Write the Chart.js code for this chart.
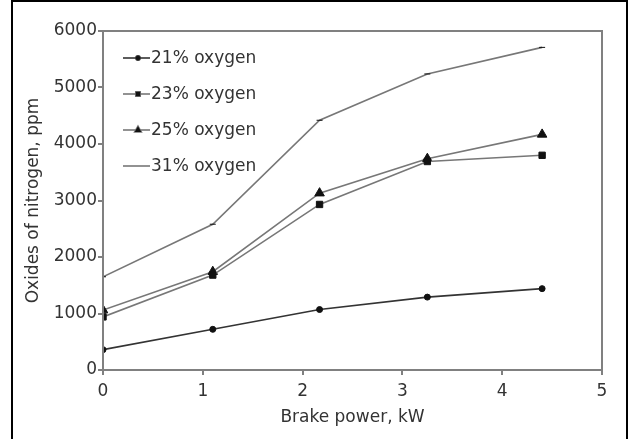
<!DOCTYPE html>
<html>
<head>
<meta charset="utf-8">
<script src="https://cdn.jsdelivr.net/npm/chart.js@4.4.0/dist/chart.umd.min.js"></script>
<style>
  body { margin: 0; background: #fff; }
  #wrap { position: relative; width: 628px; height: 439px; overflow: hidden; }
  #frame { position: absolute; left: 11px; top: 0; width: 617px; height: 470px;
           border: 2px solid #000; box-sizing: border-box; pointer-events: none; }
</style>
</head>
<body>
<div id="wrap">
  <canvas id="chart" width="628" height="439"></canvas>
  <div id="frame"></div>
</div>
<script>
// brake power (kW) at each test point
const power = [0, 1.1, 2.17, 3.25, 4.4];

// oxides of nitrogen (ppm)
const nox21 = [360, 720, 1070, 1290, 1440];
const nox23 = [940, 1680, 2930, 3690, 3800];
const nox25 = [1060, 1740, 3130, 3740, 4170];
const nox31 = [1650, 2580, 4420, 5240, 5710];

const labels = ['21% oxygen', '23% oxygen', '25% oxygen', '31% oxygen'];

const toPoints = (ys) => ys.map((y, i) => ({ x: power[i], y: y }));

const series = [
  { label: labels[0], data: toPoints(nox21), pointStyle: 'circle', pointRadius: 3, borderColor: '#333' },
  { label: labels[1], data: toPoints(nox23), pointStyle: 'rect', pointRadius: 4.5, borderColor: '#777' },
  { label: labels[2], data: toPoints(nox25), pointStyle: 'triangle', pointRadius: 5.5, borderColor: '#777' },
  { label: labels[3], data: toPoints(nox31), pointStyle: 'line', pointRadius: 3, borderColor: '#777' },
];

// box around the plot plus the hand-placed legend inside it
const plotExtras = {
  id: 'plotExtras',
  afterDraw(chart) {
    const { ctx, chartArea } = chart;
    ctx.save();
    ctx.strokeStyle = '#808080';
    ctx.lineWidth = 2;
    ctx.strokeRect(chartArea.left, chartArea.top, chartArea.right - chartArea.left, chartArea.bottom - chartArea.top);

    ctx.font = '17px "DejaVu Sans"';
    ctx.textBaseline = 'middle';
    chart.data.datasets.forEach((ds, i) => {
      const y = chartArea.top + 27 + i * 36;
      const x0 = chartArea.left + 20;
      ctx.strokeStyle = ds.borderColor;
      ctx.lineWidth = 1.6;
      ctx.beginPath();
      ctx.moveTo(x0, y);
      ctx.lineTo(x0 + 27, y);
      ctx.stroke();
      if (ds.pointStyle !== 'line') {
        Chart.helpers.drawPoint(ctx, { pointStyle: ds.pointStyle, radius: ds.pointRadius * 0.7, borderWidth: 1 }, x0 + 15, y);
        ctx.fillStyle = '#111';
        ctx.fill();
      }
      ctx.fillStyle = '#333';
      ctx.fillText(ds.label, x0 + 28, y + 1);
    });
    ctx.restore();
  }
};

new Chart(document.getElementById('chart'), {
  type: 'scatter',
  data: {
    datasets: series.map((s) => ({
      ...s,
      showLine: true,
      borderWidth: 1.6,
      pointBackgroundColor: '#111',
      pointBorderColor: '#111',
      pointBorderWidth: 1,
      tension: 0,
    })),
  },
  plugins: [plotExtras],
  options: {
    responsive: false,
    animation: false,
    layout: { padding: { left: 14, right: 26, top: 31, bottom: 10 } },
    plugins: {
      legend: { display: false },
      tooltip: { enabled: false },
    },
    scales: {
      x: {
        type: 'linear',
        min: 0,
        max: 5,
        ticks: { stepSize: 1, color: '#333', font: { family: 'DejaVu Sans', size: 17 }, padding: 6 },
        grid: { drawOnChartArea: false, tickLength: 5, color: '#808080', lineWidth: 2 },
        border: { color: '#808080', width: 2 },
        title: { display: true, text: 'Brake power, kW', color: '#333', font: { family: 'DejaVu Sans', size: 17 }, padding: { top: 0, bottom: 1 } },
        afterFit(scale) { scale.height = 59; },
      },
      y: {
        min: 0,
        max: 6000,
        ticks: { stepSize: 1000, color: '#333', font: { family: 'DejaVu Sans', size: 17 }, padding: 1, callback: (v) => String(v) },
        grid: { drawOnChartArea: false, tickLength: 5, color: '#808080', lineWidth: 2 },
        border: { color: '#808080', width: 2 },
        title: { display: true, text: 'Oxides of nitrogen, ppm', color: '#333', font: { family: 'DejaVu Sans', size: 17 }, padding: { top: 9, bottom: 0 } },
        afterFit(scale) { scale.width = 89; },
      },
    },
  },
});
</script>
</body>
</html>
